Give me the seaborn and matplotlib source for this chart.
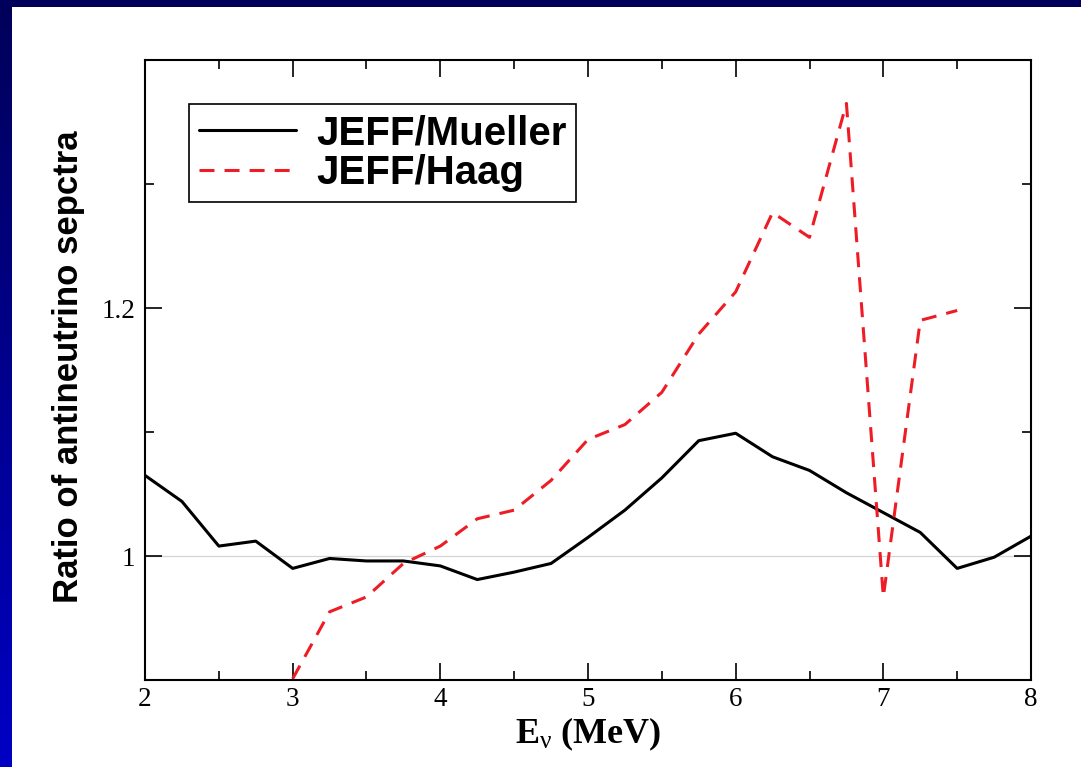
import numpy as np
import pandas as pd
import matplotlib
matplotlib.use("Agg")
import matplotlib.pyplot as plt
import seaborn as sns
from matplotlib.colors import LinearSegmentedColormap

# ---- data ----
energy_mueller = [2.0, 2.25, 2.5, 2.75, 3.0, 3.25, 3.5, 3.75, 4.0, 4.25, 4.5, 4.75,
                  5.0, 5.25, 5.5, 5.75, 6.0, 6.25, 6.5, 6.75, 7.0, 7.25, 7.5, 7.75, 8.0]
ratio_mueller = [1.065, 1.044, 1.008, 1.012, 0.990, 0.998, 0.996, 0.996, 0.992, 0.981,
                 0.987, 0.994, 1.015, 1.037, 1.063, 1.093, 1.099, 1.080, 1.069, 1.051,
                 1.035, 1.019, 0.990, 0.999, 1.016]
energy_haag = [3.0, 3.25, 3.5, 3.75, 4.0, 4.25, 4.5, 4.75, 5.0, 5.25, 5.5, 5.75,
               6.0, 6.25, 6.5, 6.75, 7.0, 7.25, 7.5]
ratio_haag = [0.901, 0.955, 0.967, 0.994, 1.008, 1.030, 1.037, 1.061, 1.094, 1.106,
              1.132, 1.179, 1.213, 1.277, 1.257, 1.365, 0.967, 1.190, 1.198]
label_mueller = "JEFF/Mueller"
label_haag = "JEFF/Haag"
xticks = [2, 3, 4, 5, 6, 7, 8]
yticks = [1.0, 1.2]
ytick_labels = ["1", "1.2"]

sns.set_style("ticks")
plt.rcParams["font.family"] = ["Liberation Serif", "DejaVu Sans"]
plt.rcParams["xtick.labelsize"] = 19.5
plt.rcParams["ytick.labelsize"] = 19.5
plt.rcParams["xtick.color"] = "black"
plt.rcParams["ytick.color"] = "black"
plt.rcParams["mathtext.fontset"] = "custom"
plt.rcParams["mathtext.rm"] = "Liberation Serif"
plt.rcParams["mathtext.bf"] = "Liberation Serif:bold"
plt.rcParams["mathtext.it"] = "Liberation Serif:italic"
plt.rcParams["text.color"] = "black"

W, H = 1081, 767
fig = plt.figure(figsize=(W / 100, H / 100), dpi=100, facecolor="white")

# background frame: top navy band and left gradient strip
top = fig.add_axes([0, 1 - 7 / H, 1, 7 / H])
top.set_facecolor("#00005a")
top.set_xticks([]); top.set_yticks([])
for s in top.spines.values():
    s.set_visible(False)
left = fig.add_axes([0, 0, 12 / W, 1 - 7 / H])
grad = np.linspace(0, 1, 256).reshape(-1, 1)
cmap = LinearSegmentedColormap.from_list("bl", ["#0000c4", "#00005a"])
left.imshow(grad, aspect="auto", cmap=cmap, origin="lower", extent=[0, 1, 0, 1])
left.axis("off")

ax = fig.add_axes([145 / W, (H - 680) / H, 886 / W, 620 / H])
ax.set_facecolor("white")

ax.axhline(1.0, color="#d4d4d4", lw=0.9, zorder=0.5)

df_m = pd.DataFrame({"E": energy_mueller, "R": ratio_mueller})
df_h = pd.DataFrame({"E": energy_haag, "R": ratio_haag})
sns.lineplot(data=df_m, x="E", y="R", ax=ax, color="black", lw=2.2,
             label=label_mueller, estimator=None, sort=False)
sns.lineplot(data=df_h, x="E", y="R", ax=ax, color="#ee1c25", lw=2.2,
             linestyle=(0, (4.9, 3.3)), label=label_haag, estimator=None, sort=False)

ax.set_xlim(2, 8)
ax.set_ylim(0.9, 1.4)
ax.set_xticks(xticks)
ax.set_xticks(np.arange(2.5, 8, 1.0), minor=True)
ax.set_yticks(yticks)
ax.set_yticklabels(ytick_labels)
ax.set_yticks([1.1, 1.3], minor=True)
ax.tick_params(which="both", direction="in", top=True, right=True, width=1.2,
               color="black", labelcolor="black", labelsize=19.5)
ax.tick_params(which="major", length=12.5)
ax.tick_params(which="minor", length=6.5)
ax.tick_params(axis="x", which="major", pad=5)
ax.tick_params(axis="y", which="major", pad=7)
for lab in ax.get_xticklabels() + ax.get_yticklabels():
    lab.set_fontsize(19.5)
    lab.set_fontfamily("Liberation Serif")
for s in ax.spines.values():
    s.set_linewidth(1.5)
    s.set_color("black")

ax.set_xlabel(r"$\mathbf{E}_{\mathrm{\nu}}$ (MeV)", fontfamily="Liberation Serif",
              fontweight="bold", fontsize=26, color="black")
ax.xaxis.set_label_coords(0.5, -0.057)
ax.set_ylabel("Ratio of antineutrino sepctra", fontfamily="Liberation Sans",
              fontweight="bold", fontsize=25, color="black")
ax.yaxis.set_label_coords(-0.068, 0.505)

leg = ax.legend(loc="upper left", bbox_to_anchor=(0.0497, 0.929), borderaxespad=0,
                frameon=True, fancybox=False, shadow=False, handlelength=2.4,
                handletextpad=0.5, labelspacing=0.05, borderpad=0.25,
                labelcolor="black",
                prop={"family": "Liberation Sans", "weight": "bold", "size": 29})
leg.get_frame().set_edgecolor("black")
leg.get_frame().set_linewidth(1.2)
leg.get_frame().set_alpha(1)

fig.savefig("out.png", dpi=100, facecolor="white")
